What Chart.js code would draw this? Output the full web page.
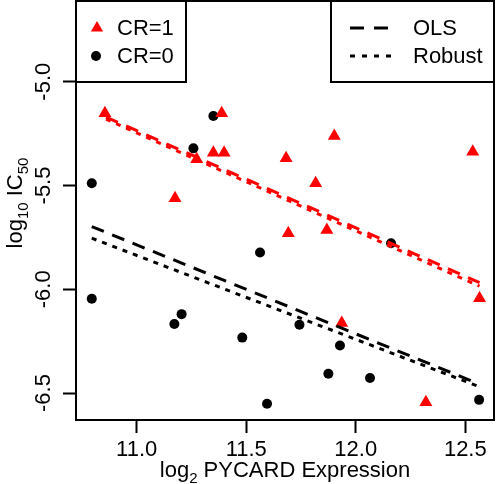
<!DOCTYPE html>
<html>
<head>
<meta charset="utf-8">
<script src="https://cdn.jsdelivr.net/npm/chart.js@4.4.1/dist/chart.umd.min.js"></script>
<style>
html, body { margin: 0; padding: 0; background: #fff; }
#wrap { width: 496px; height: 484px; }
</style>
</head>
<body>
<div id="wrap"><canvas id="myChart" width="496" height="484"></canvas></div>
<script>
// CR=1 (red triangles)
var cr1X = [10.855, 11.388, 11.350, 11.399, 11.274, 11.682, 11.175, 11.902, 12.534, 11.817, 11.692, 11.868, 12.565, 11.936, 12.320];
var cr1Y = [-5.152, -5.152, -5.342, -5.342, -5.374, -5.369, -5.561, -5.262, -5.337, -5.489, -5.730, -5.714, -6.043, -6.163, -6.544];
// CR=0 (black dots)
var cr0X = [11.350, 11.259, 10.795, 11.563, 10.795, 11.205, 11.172, 11.482, 11.595, 12.161, 11.743, 11.928, 11.875, 12.065, 12.563];
var cr0Y = [-5.165, -5.321, -5.489, -5.823, -6.046, -6.120, -6.167, -6.233, -6.552, -5.778, -6.171, -6.271, -6.407, -6.428, -6.533];

// fitted lines (end points)
var redX = [10.86, 12.565];
var redOlsY = [-5.170, -5.968];
var redRobY = [-5.180, -5.985];
var blackX = [10.795, 12.553];
var blackOlsY = [-5.698, -6.452];
var blackRobY = [-5.754, -6.465];

var xTicks = [11.0, 11.5, 12.0, 12.5];
var yTicks = [-5.0, -5.5, -6.0, -6.5];

var FONT = 'Liberation Sans, Arial, sans-serif';

function pts(xs, ys) {
    return xs.map(function(x, i) { return { x: x, y: ys[i] }; });
}

function lineSet(xs, ys, color, dash) {
    return {
        data: pts(xs, ys),
        showLine: true,
        borderColor: color,
        borderWidth: 3,
        borderDash: dash,
        pointRadius: 0,
        pointHoverRadius: 0,
        fill: false,
        order: 0
    };
}

// text with subscripts, parts = [[text, isSub], ...], centred on x
function drawRich(ctx, parts, x, y) {
    var w = 0;
    parts.forEach(function(p) {
        ctx.font = (p[1] ? 15 : 22) + 'px ' + FONT;
        w += ctx.measureText(p[0]).width;
    });
    var cx = x - w / 2;
    ctx.textAlign = 'left';
    ctx.textBaseline = 'alphabetic';
    parts.forEach(function(p) {
        ctx.font = (p[1] ? 15 : 22) + 'px ' + FONT;
        ctx.fillText(p[0], cx, p[1] ? y + 6 : y);
        cx += ctx.measureText(p[0]).width;
    });
}

var extras = {
    id: 'extras',
    afterDraw: function(chart) {
        var ctx = chart.ctx;
        var a = chart.chartArea;
        ctx.save();
        ctx.fillStyle = '#000';
        ctx.strokeStyle = '#000';

        // axis titles
        drawRich(ctx, [['log', false], ['2', true], [' PYCARD Expression', false]], (a.left + a.right) / 2, 477);
        ctx.save();
        ctx.translate(22, 203);
        ctx.rotate(-Math.PI / 2);
        drawRich(ctx, [['log', false], ['10', true], [' IC', false], ['50', true]], 0, 0);
        ctx.restore();

        // legend boxes
        ctx.lineWidth = 2;
        ctx.fillStyle = '#fff';
        ctx.fillRect(a.left, a.top, 110, 81);
        ctx.strokeRect(a.left, a.top, 110, 81);
        ctx.fillRect(331, a.top, a.right - 331, 81);
        ctx.strokeRect(331, a.top, a.right - 331, 81);

        ctx.font = '22px ' + FONT;
        ctx.textBaseline = 'middle';
        ctx.textAlign = 'left';
        ctx.fillStyle = '#000';
        ctx.fillText('CR=1', 117, 29);
        ctx.fillText('CR=0', 117, 57);
        ctx.fillText('OLS', 413, 29);
        ctx.fillText('Robust', 413, 57);

        // legend markers
        ctx.fillStyle = '#ff0000';
        ctx.beginPath();
        ctx.moveTo(97, 28 - 7);
        ctx.lineTo(97 + 6.1, 28 + 3.5);
        ctx.lineTo(97 - 6.1, 28 + 3.5);
        ctx.closePath();
        ctx.fill();
        ctx.fillStyle = '#000';
        ctx.beginPath();
        ctx.arc(96, 56, 5, 0, Math.PI * 2);
        ctx.fill();

        ctx.lineWidth = 3;
        ctx.setLineDash([14, 10]);
        ctx.beginPath();
        ctx.moveTo(350, 28);
        ctx.lineTo(392, 28);
        ctx.stroke();
        ctx.setLineDash([5, 7]);
        ctx.beginPath();
        ctx.moveTo(350, 56);
        ctx.lineTo(392, 56);
        ctx.stroke();
        ctx.setLineDash([]);

        // plot box
        ctx.lineWidth = 2;
        ctx.strokeRect(a.left, a.top, a.right - a.left, a.bottom - a.top);
        ctx.restore();
    }
};

document.addEventListener('DOMContentLoaded', function() {
    var ctx = document.getElementById('myChart').getContext('2d');
    new Chart(ctx, {
        type: 'scatter',
        data: {
            datasets: [
                lineSet(redX, redOlsY, '#ff0000', [13, 9]),
                lineSet(redX, redRobY, '#ff0000', [5, 6]),
                lineSet(blackX, blackOlsY, '#000000', [13, 9]),
                lineSet(blackX, blackRobY, '#000000', [5, 6]),
                {
                    label: 'CR=1',
                    data: pts(cr1X, cr1Y),
                    pointStyle: 'triangle',
                    pointRadius: 7.5,
                    backgroundColor: '#ff0000',
                    borderColor: '#ff0000',
                    borderWidth: 0,
                    order: 1
                },
                {
                    label: 'CR=0',
                    data: pts(cr0X, cr0Y),
                    pointStyle: 'circle',
                    pointRadius: 5,
                    backgroundColor: '#000000',
                    borderColor: '#000000',
                    borderWidth: 0,
                    order: 2
                }
            ]
        },
        options: {
            responsive: false,
            animation: false,
            layout: { autoPadding: false, padding: { top: 1, right: 2, left: 0, bottom: 0 } },
            plugins: {
                legend: { display: false },
                tooltip: { enabled: false }
            },
            scales: {
                x: {
                    type: 'linear',
                    min: 10.723,
                    max: 12.631,
                    afterBuildTicks: function(s) { s.ticks = xTicks.map(function(v) { return { value: v }; }); },
                    afterFit: function(s) { s.height = 64; s.paddingLeft = 0; s.paddingRight = 0; },
                    ticks: {
                        callback: function(v) { return v.toFixed(1); },
                        font: { family: FONT, size: 22 },
                        color: '#000',
                        padding: 4,
                        maxRotation: 0,
                        autoSkip: false
                    },
                    grid: { drawOnChartArea: false, drawTicks: true, tickLength: 13, tickColor: '#000', tickWidth: 2 },
                    border: { display: false }
                },
                y: {
                    type: 'linear',
                    min: -6.63,
                    max: -4.611,
                    afterBuildTicks: function(s) { s.ticks = yTicks.map(function(v) { return { value: v }; }); },
                    afterFit: function(s) { s.width = 76; s.paddingTop = 0; s.paddingBottom = 0; },
                    ticks: {
                        callback: function(v) { return v.toFixed(1); },
                        font: { family: FONT, size: 22 },
                        color: '#000',
                        padding: 0,
                        minRotation: 90,
                        maxRotation: 90,
                        crossAlign: 'center',
                        autoSkip: false
                    },
                    grid: { drawOnChartArea: false, drawTicks: true, tickLength: 13, tickColor: '#000', tickWidth: 2 },
                    border: { display: false }
                }
            }
        },
        plugins: [extras]
    });
});
</script>
</body>
</html>
